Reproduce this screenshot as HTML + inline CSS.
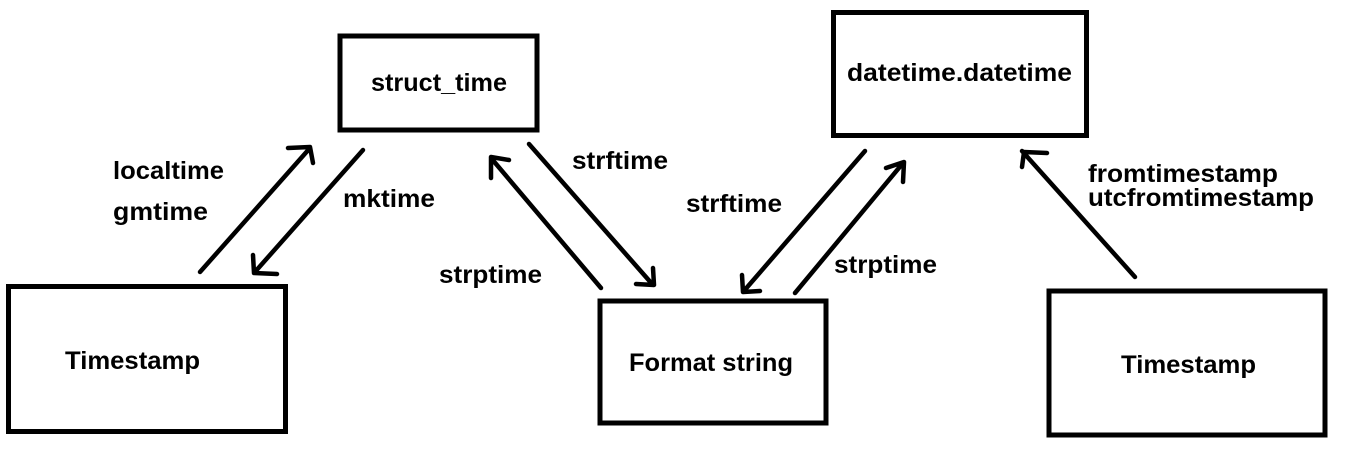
<!DOCTYPE html>
<html><head><meta charset="utf-8"><style>
html,body{margin:0;padding:0;background:#fff;}
svg{display:block;}
text{font-family:"Liberation Sans",sans-serif;font-weight:bold;font-size:25px;fill:#000;}
</style></head><body>
<svg width="1348" height="450" viewBox="0 0 1348 450" xmlns="http://www.w3.org/2000/svg">
<g fill="none" stroke="#000" stroke-width="5">
<rect x="8.5" y="286.5" width="277" height="145"/>
<rect x="340" y="36" width="197" height="94"/>
<rect x="833.5" y="12.5" width="253" height="123"/>
<rect x="600" y="301" width="226" height="122"/>
<rect x="1049" y="291" width="276" height="144"/>
</g>
<g fill="none" stroke="#000" stroke-width="4.5" stroke-linecap="round" stroke-linejoin="round">
<path d="M200 272 L310 148 M288 148 L310 147 L313 163"/>
<path d="M363 150 L254 273 M253 255 L254 273 L277 274"/>
<path d="M601 288 L491 158 M491 178 L491 157 L509 160"/>
<path d="M529 144 L653 285 M636 284 L654 285 L653 268"/>
<path d="M865 151 L743 292 M742 275 L743 292 L760 291"/>
<path d="M795 293 L903 163 M886 168 L904 162 L903 182"/>
<path d="M1135 277 L1022 151 M1047 153 L1024 152 L1022 167"/>
</g>
<text x="371" y="91" textLength="136" lengthAdjust="spacingAndGlyphs">struct_time</text>
<text x="847" y="81" textLength="225" lengthAdjust="spacingAndGlyphs">datetime.datetime</text>
<text x="65" y="369" textLength="135" lengthAdjust="spacingAndGlyphs">Timestamp</text>
<text x="629" y="371" textLength="164" lengthAdjust="spacingAndGlyphs">Format string</text>
<text x="1121" y="373" textLength="135" lengthAdjust="spacingAndGlyphs">Timestamp</text>
<text x="113" y="179" textLength="111" lengthAdjust="spacingAndGlyphs">localtime</text>
<text x="113" y="220" textLength="95" lengthAdjust="spacingAndGlyphs">gmtime</text>
<text x="343" y="207" textLength="92" lengthAdjust="spacingAndGlyphs">mktime</text>
<text x="572" y="169" textLength="96" lengthAdjust="spacingAndGlyphs">strftime</text>
<text x="439" y="283" textLength="103" lengthAdjust="spacingAndGlyphs">strptime</text>
<text x="686" y="212" textLength="96" lengthAdjust="spacingAndGlyphs">strftime</text>
<text x="834" y="273" textLength="103" lengthAdjust="spacingAndGlyphs">strptime</text>
<text x="1088" y="182" textLength="190" lengthAdjust="spacingAndGlyphs">fromtimestamp</text>
<text x="1088" y="206" textLength="226" lengthAdjust="spacingAndGlyphs">utcfromtimestamp</text>
</svg>
</body></html>
